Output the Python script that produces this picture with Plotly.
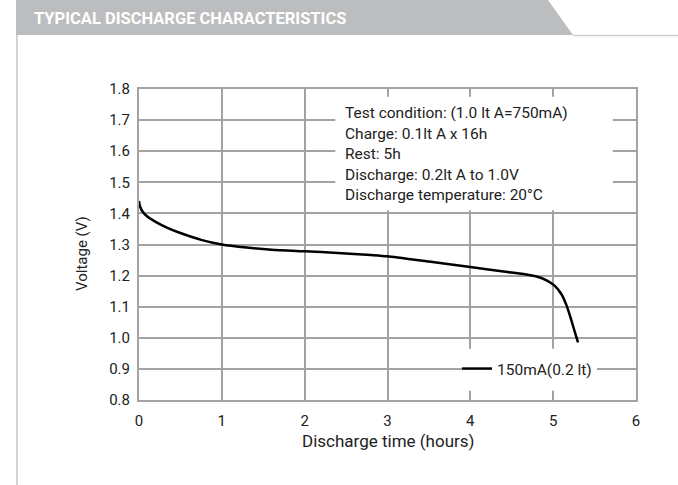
import plotly.graph_objects as go

# ---- data ----
time_h = [0, 0.01, 0.04, 0.1, 0.2, 0.35, 0.5, 0.75, 1.0, 1.3, 1.6, 2.0, 2.4, 2.8, 3.0,
          3.5, 4.0, 4.4, 4.64, 4.8, 4.92, 5.02, 5.1, 5.16, 5.21, 5.26, 5.30]
voltage = [1.44, 1.425, 1.407, 1.39, 1.373, 1.353, 1.337, 1.315, 1.30, 1.29, 1.283, 1.278,
           1.273, 1.266, 1.262, 1.245, 1.228, 1.213, 1.205, 1.197, 1.185, 1.167, 1.14, 1.105,
           1.065, 1.02, 0.985]
series_name = "150mA(0.2 lt)"
x_ticks = [0, 1, 2, 3, 4, 5, 6]
y_ticks = [0.8, 0.9, 1.0, 1.1, 1.2, 1.3, 1.4, 1.5, 1.6, 1.7, 1.8]
title_text = "TYPICAL DISCHARGE CHARACTERISTICS"
x_title = "Discharge time (hours)"
y_title = "Voltage (V)"
condition_lines = [
    "Test condition: (1.0 lt A=750mA)",
    "Charge: 0.1lt A x 16h",
    "Rest: 5h",
    "Discharge: 0.2lt A to 1.0V",
    "Discharge temperature: 20°C",
]

W, H = 678, 485
ML, MR, MT, MB = 139, 42, 89, 85
PW, PH = W - ML - MR, H - MT - MB


def px(x):
    return (x - ML) / PW


def py(y):
    return (H - MB - y) / PH


GRID = "#a3a3a3"
FONT = "Roboto, Arial, sans-serif"
TXT = "#222222"

fig = go.Figure()
fig.add_trace(go.Scatter(x=time_h, y=voltage, mode="lines", name=series_name,
                         line=dict(color="black", width=2.5, shape="spline", smoothing=0.6)))

shapes = []
# header band
hdr = [(16, 0), (548, 0), (573, 35), (16, 35)]
path = "M " + " L ".join(f"{px(a):.5f},{py(b):.5f}" for a, b in hdr) + " Z"
shapes.append(dict(type="path", xref="paper", yref="paper", path=path,
                   fillcolor="#bcbdbf", line=dict(width=0), layer="above"))
shapes.append(dict(type="line", xref="paper", yref="paper", x0=px(573), x1=px(678),
                   y0=py(35.5), y1=py(35.5), line=dict(color="#cfcfcf", width=1.5)))
shapes.append(dict(type="line", xref="paper", yref="paper", x0=px(17), x1=px(17),
                   y0=py(35), y1=py(485), line=dict(color="#d3d3d3", width=2)))
# white boxes over grid
shapes.append(dict(type="rect", xref="x", yref="y", x0=2.37, x1=5.72, y0=1.41, y1=1.775,
                   fillcolor="white", line=dict(width=0), layer="between"))
shapes.append(dict(type="rect", xref="x", yref="y", x0=3.9, x1=5.53, y0=0.83, y1=0.965,
                   fillcolor="white", line=dict(width=0), layer="between"))

annotations = [dict(xref="paper", yref="paper", x=px(32), y=py(18), xanchor="left",
                    yanchor="middle", text=f"<b>{title_text}</b>", showarrow=False,
                    font=dict(family=FONT, size=16.5, color="white"))]
line_y = [113, 133.5, 154, 174.5, 195]
for t, yy in zip(condition_lines, line_y):
    annotations.append(dict(xref="paper", yref="paper", x=px(343), y=py(yy), xanchor="left",
                            yanchor="middle", text=t, showarrow=False,
                            font=dict(family=FONT, size=15.5, color=TXT)))
# axis titles
annotations.append(dict(xref="paper", yref="paper", x=px(388.5), y=py(441), xanchor="center",
                        yanchor="middle", text=x_title, showarrow=False,
                        font=dict(family=FONT, size=17, color=TXT)))
annotations.append(dict(xref="paper", yref="paper", x=px(82), y=py(254), xanchor="center",
                        yanchor="middle", text=y_title, showarrow=False, textangle=-90,
                        font=dict(family=FONT, size=15, color=TXT)))

fig.update_layout(
    width=W, height=H,
    margin=dict(l=ML, r=MR, t=MT, b=MB),
    paper_bgcolor="white", plot_bgcolor="white",
    font=dict(family=FONT, size=14, color=TXT),
    shapes=shapes, annotations=annotations,
    showlegend=True,
    legend=dict(x=px(457), y=py(369), xanchor="left", yanchor="middle",
                bgcolor="rgba(0,0,0,0)", font=dict(family=FONT, size=15.5, color=TXT),
                itemwidth=30, borderwidth=0),
    xaxis=dict(range=[0, 6], tickvals=x_ticks, ticktext=[str(v) for v in x_ticks],
               showgrid=True, gridcolor=GRID, gridwidth=2, zeroline=False,
               showline=True, linecolor=GRID, linewidth=2, mirror=True, ticks="",
               ticklabelstandoff=6, tickfont=dict(size=15, color=TXT)),
    yaxis=dict(range=[0.8, 1.8], tickvals=y_ticks, ticktext=[f"{v:.1f}" for v in y_ticks],
               showgrid=True, gridcolor=GRID, gridwidth=2, zeroline=False,
               showline=True, linecolor=GRID, linewidth=2, mirror=True, ticks="",
               ticklabelstandoff=4, tickfont=dict(size=15, color=TXT)),
)

fig.write_html("out.html", config={"displayModeBar": False},
               post_script="document.body.style.margin='0';")
